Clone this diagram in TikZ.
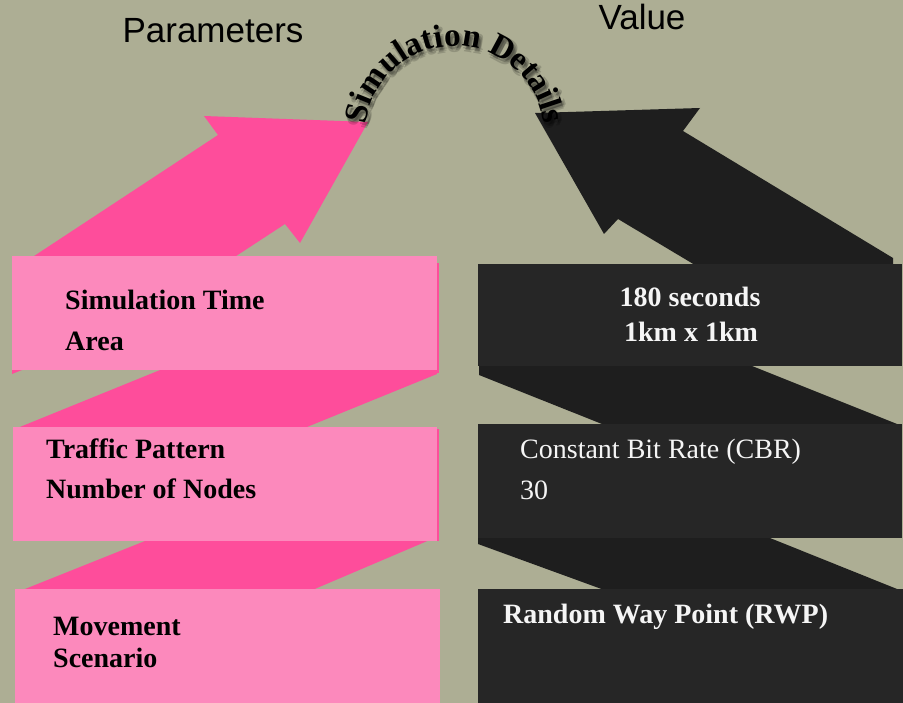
\documentclass[tikz,border=0pt]{standalone}
\usepackage{fontspec}
\setmainfont{Liberation Serif}
\newfontfamily\headfont{Liberation Sans}
\usetikzlibrary{decorations.text}

\definecolor{bgolive}{RGB}{173,174,148}
\definecolor{pinklight}{RGB}{252,137,188}
\definecolor{pinkdeep}{RGB}{254,77,155}
\definecolor{darkbox}{RGB}{38,38,38}
\definecolor{darkband}{RGB}{30,30,30}
\definecolor{offwhite}{RGB}{245,245,245}

\newcommand\arcfont{\fontsize{33}{35}\selectfont\bfseries}

\begin{document}
\begin{tikzpicture}[x=1pt,y=-1pt,
  head/.style={anchor=base, inner sep=0pt, font=\headfont\fontsize{35}{38}\selectfont},
  parlbl/.style={anchor=base west, inner sep=0pt, text=black,
                 font=\fontsize{28}{30}\selectfont\bfseries},
  vallbl/.style={anchor=base west, inner sep=0pt, text=offwhite,
                 font=\fontsize{28}{30}\selectfont},
  valbold/.style={vallbl, font=\fontsize{28}{30}\selectfont\bfseries},
  arclabel/.style={decorate, font=\arcfont, decoration={text along path,
                 text={|\arcfont#1|Simulation Details}, text align=center}}]

% background
\fill[bgolive] (0,0) rectangle (903,703);
\useasboundingbox (0,0) rectangle (903,703);

% headings
\node[head] (hpar) at (213,43) {Parameters};
\node[head] (hval) at (642,30) {Value};

% pink arrow and connecting bands
\fill[pinkdeep] (25,262) -- (218,135) -- (204,116) -- (368,122)
  -- (300,243) -- (285,224) -- (227,262) -- cycle;
\fill[pinkdeep] (170,366) -- (437,366) -- (437,374) -- (302,429) -- (15,429) -- cycle;
\fill[pinkdeep] (12,370) -- (12,374) -- (22,370) -- cycle;
\fill[pinkdeep] (150,539) -- (432,539) -- (310,591) -- (20,591) -- cycle;
\fill[pinkdeep] (436,263) rectangle (439,373);
\fill[pinkdeep] (436,429) rectangle (439,541);

% dark arrow and connecting bands
\fill[darkband] (535,113) -- (700,108) -- (683,131) -- (893,258)
  -- (893,268) -- (700,268) -- (618,219) -- (604,234) -- cycle;
\fill[darkband] (479,364) -- (747,364) -- (902,426) -- (607,426) -- (479,375) -- cycle;
\fill[darkband] (478,536) -- (765,536) -- (902,591) -- (607,591) -- (478,544) -- cycle;

% parameter boxes
\fill[pinklight] (12,256) rectangle (437,370);
\fill[pinklight] (13,427) rectangle (437,541);
\fill[pinklight] (15,589) rectangle (440,703);

% value boxes
\fill[darkbox] (478,264) rectangle (902,366);
\fill[darkbox] (478,424) rectangle (902,538);
\fill[darkbox] (478,589) rectangle (903,703);

% parameter labels
\node[parlbl] (p1) at (65,310) {Simulation Time};
\node[parlbl] (p2) at (65,351) {Area};
\node[parlbl] (p3) at (46,459) {Traffic Pattern};
\node[parlbl] (p4) at (46,498) {Number of Nodes};
\node[parlbl] (p5) at (53,635) {Movement};
\node[parlbl] (p6) at (53,667) {Scenario};

% value labels
\node[valbold, anchor=base] (v1) at (690,307) {180 seconds};
\node[valbold, anchor=base] (v2) at (691,342) {1km x 1km};
\node[vallbl] (v3) at (520,459) {Constant Bit Rate (CBR)};
\node[vallbl] (v4) at (520,499) {30};
\node[valbold] (v5) at (503,623) {Random Way Point (RWP)};

% curved title with a soft shadow
\foreach \dx/\dy in {1/3, 3/4, 2/6, 4/2} {
  \begin{scope}[shift={(\dx,\dy)}, opacity=0.16]
    \path[arclabel={\color{black}}] (455,136) ++(188:90) arc[start angle=188, end angle=352, radius=90];
  \end{scope}
}
\path[arclabel={\color{black}}] (455,136) ++(188:90) arc[start angle=188, end angle=352, radius=90];

\end{tikzpicture}
\end{document}
